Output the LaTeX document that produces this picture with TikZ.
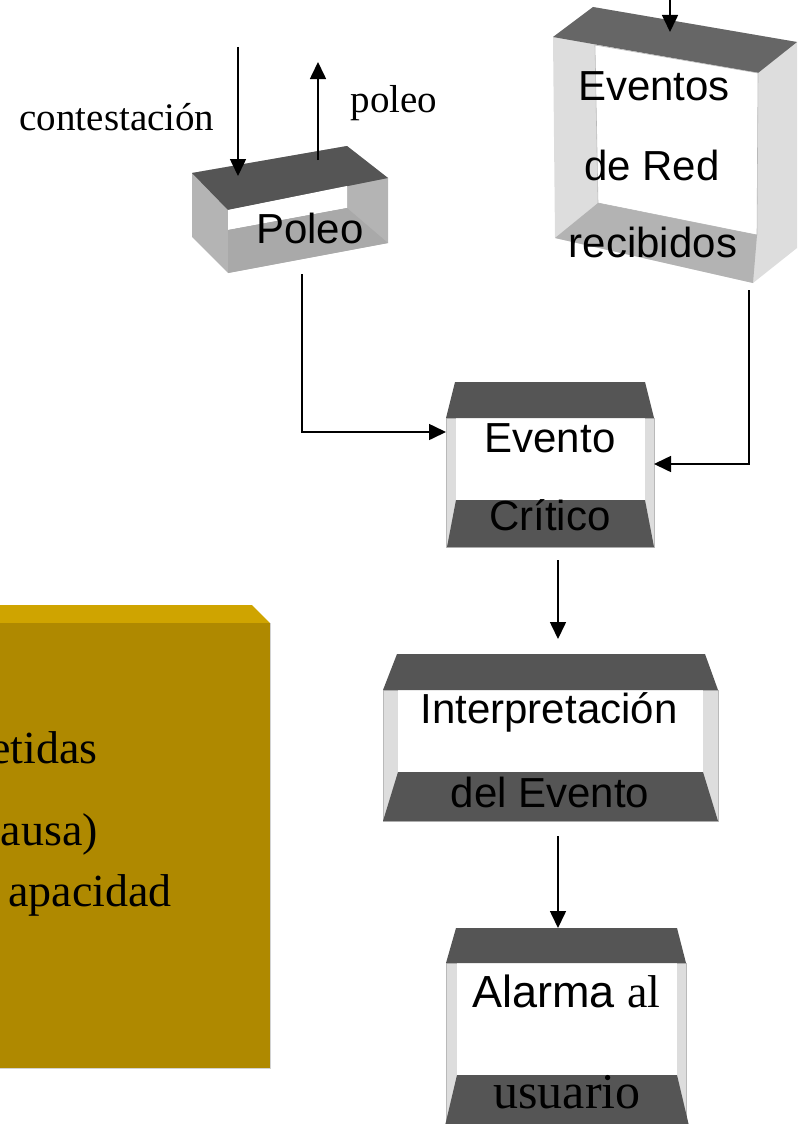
\documentclass[tikz,border=0pt]{standalone}
\usepackage{fontspec}
\setmainfont{Liberation Serif}
\newfontfamily\arialf{Liberation Sans}
\usetikzlibrary{arrows.meta}
\definecolor{boxdark}{HTML}{555555}
\definecolor{evdark}{HTML}{666666}
\definecolor{panel}{HTML}{DDDDDD}
\definecolor{panelgray}{HTML}{B4B4B4}
\definecolor{floorgray}{HTML}{A9A9A9}
\definecolor{evfloor}{HTML}{B3B3B3}
\definecolor{ytop}{HTML}{CFA400}
\definecolor{yface}{HTML}{AF8900}
\begin{document}
\begin{tikzpicture}[x=1pt,y=-1pt,
  conn/.style={line width=1.6pt,-{Triangle[length=17pt,width=16pt]}},
  sanstext/.style={font=\arialf\fontsize{42}{50}\selectfont,inner sep=0pt,anchor=base},
  seriftext/.style={font=\fontsize{39}{47}\selectfont,inner sep=0pt,anchor=base},
  yellowtext/.style={font=\fontsize{46}{54}\selectfont,inner sep=0pt,anchor=base east},
  edge/.style={draw=gray!55,line width=0.6pt}]
\useasboundingbox (0,0) rectangle (798,1124);
\clip (0,0) rectangle (798,1124);

% yellow box
\fill[ytop] (-20,605) -- (252,605) -- (270,623) -- (-20,623) -- cycle;
\fill[yface] (-20,623) rectangle (270,1068);
\draw[gray!35,line width=1pt] (270,623) -- (270,1068) -- (-20,1068);
\node[yellowtext] (y1) at (98,763) {etidas};
\node[yellowtext] (y2) at (98,845) {ausa)};
\node[yellowtext] (y3) at (172,906) {apacidad};

% Poleo box
\fill[panelgray] (192,173) -- (347,146) -- (388,178) -- (388,243) -- (228,273) -- (192,237) -- cycle;
\fill[boxdark] (192,173) -- (347,146) -- (388,178) -- (228,210) -- cycle;
\fill[white] (228,210) -- (347,186) -- (347,208) -- (228,230) -- cycle;
\fill[floorgray] (228,230) -- (347,208) -- (388,243) -- (228,273) -- cycle;
\node[sanstext] (poleo) at (310,243) {Poleo};

% Eventos de Red box
\fill[panel] (553,37) -- (593,7) -- (797,42) -- (797,248) -- (753,283) -- (555,238) -- cycle;
\fill[evdark] (553,37) -- (593,7) -- (797,42) -- (758,73) -- cycle;
\fill[white,edge] (595,45) -- (758,73) -- (757,235) -- (598,203) -- cycle;
\fill[evfloor] (598,203) -- (757,235) -- (753,283) -- (555,238) -- cycle;
\node[sanstext] (ev1) at (654,100) {Eventos};
\node[sanstext] (ev2) at (652,180) {de Red};
\node[sanstext] (ev3) at (653,257) {recibidos};

% Evento Critico box
\fill[panel,edge] (446,418) rectangle (654,547);
\fill[white] (456,418) rectangle (645,500);
\fill[boxdark] (455,382) -- (645,382) -- (654,418) -- (446,418) -- cycle;
\fill[boxdark] (456,500) -- (645,500) -- (654,547) -- (447,547) -- cycle;
\node[sanstext] (ec1) at (550,452) {Evento};
\node[sanstext] (ec2) at (550,530) {Crítico};

% Interpretacion box
\fill[panel,edge] (383,690) rectangle (718,821);
\fill[white] (398,690) rectangle (703,772);
\fill[boxdark] (397,654) -- (705,654) -- (718,690) -- (383,690) -- cycle;
\fill[boxdark] (398,772) -- (703,772) -- (718,821) -- (383,821) -- cycle;
\node[sanstext] (in1) at (549,723) {Interpretación};
\node[sanstext] (in2) at (550,807) {del Evento};

% Alarma box
\fill[panel,edge] (446,963) rectangle (686,1130);
\fill[white] (457,963) rectangle (677,1075);
\fill[boxdark] (456,928) -- (677,928) -- (686,963) -- (446,963) -- cycle;
\fill[boxdark] (457,1075) -- (677,1075) -- (690,1130) -- (444,1130) -- cycle;
\node[inner sep=0pt,anchor=base west] (al1) at (472,1007) {\arialf\fontsize{45}{54}\selectfont Alarma \fontspec{Liberation Serif}\fontsize{46}{54}\selectfont al};
\node[seriftext,font=\fontsize{50}{58}\selectfont] (al2) at (567,1108) {usuario};

% labels
\node[seriftext] (lcont) at (117,130) {contestación};
\node[seriftext] (lpol) at (394,112) {poleo};

% connectors
\coordinate (a1s) at (238,47);
\coordinate (a1e) at (238,176);
\coordinate (a2s) at (318,160);
\coordinate (a2e) at (318,62);
\coordinate (a3s) at (670,0);
\coordinate (a3e) at (670,32);
\coordinate (p1) at (302,274);
\coordinate (p2) at (302,432);
\coordinate (p3) at (446,432);
\coordinate (r1) at (749,290);
\coordinate (r2) at (749,464);
\coordinate (r3) at (654,464);
\coordinate (c1) at (558,560);
\coordinate (c2) at (558,639);
\coordinate (i1) at (558,836);
\coordinate (i2) at (558,928);
\draw[conn] (a1s) -- (a1e);
\draw[conn] (a2s) -- (a2e);
\draw[conn] (a3s) -- (a3e);
\draw[conn] (p1) -- (p2) -- (p3);
\draw[conn] (r1) -- (r2) -- (r3);
\draw[conn] (c1) -- (c2);
\draw[conn] (i1) -- (i2);
\end{tikzpicture}
\end{document}
